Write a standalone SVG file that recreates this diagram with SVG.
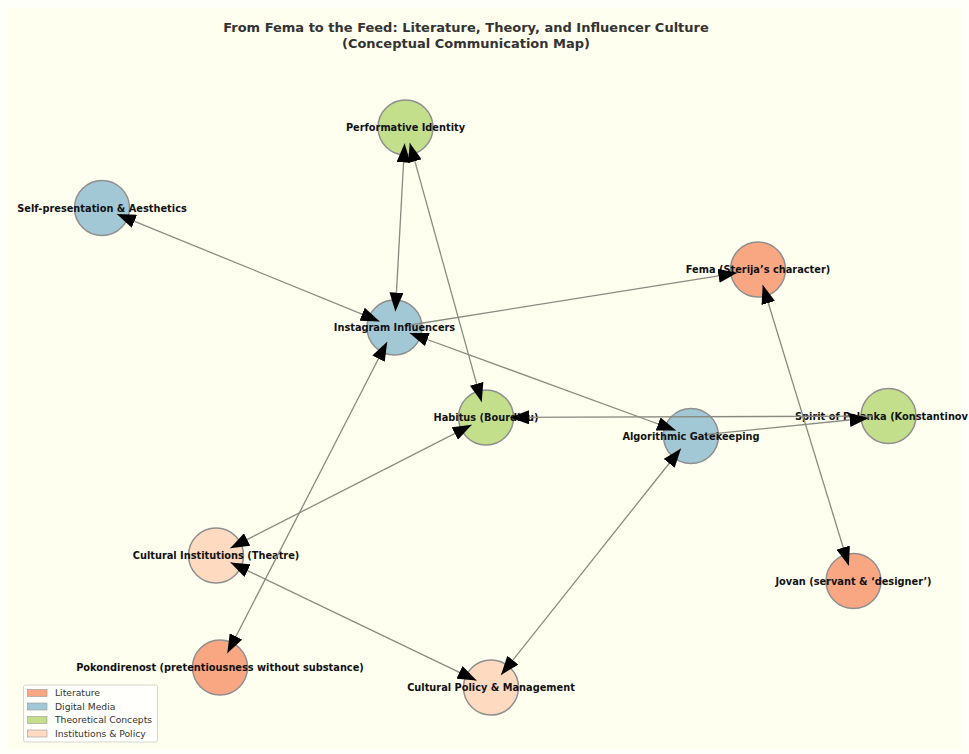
<svg xmlns="http://www.w3.org/2000/svg" width="969" height="754" viewBox="0 0 969 754">
<defs>
<marker id="ah" markerUnits="userSpaceOnUse" markerWidth="19" markerHeight="14" viewBox="0 0 19 14" refX="19" refY="7" orient="auto-start-reverse">
<path d="M0,0 L19,7 L0,14 z" fill="#000"/>
</marker>
<style>
.node circle{stroke:#8f8f8f;stroke-width:1.5}
.lit{fill:#f8a782}
.dig{fill:#a3c8d5}
.the{fill:#c3df8c}
.ins{fill:#fedac0}
.lbl{font-family:"DejaVu Sans",sans-serif;font-weight:bold;font-size:9.8px;fill:#111;text-anchor:middle}
.title{font-family:"DejaVu Sans",sans-serif;font-weight:bold;font-size:13px;fill:#333;text-anchor:middle}
.edges line{stroke:#8a8a80;stroke-width:1.3;fill:none}
.leg{font-family:"DejaVu Sans",sans-serif;font-size:9.2px;fill:#333}
.legp{stroke:#999;stroke-width:0.6}
</style>
</defs>
<rect x="0" y="0" width="969" height="754" fill="#fffffa"/>
<rect x="8" y="8" width="953" height="741" fill="#fffff0"/>
<g id="title">
<text class="title" x="466" y="31.5">From Fema to the Feed: Literature, Theory, and Influencer Culture</text>
<text class="title" x="466" y="47.5">(Conceptual Communication Map)</text>
</g>
<g id="n-performative" class="node"><circle class="the" cx="405.5" cy="127.5" r="27.5"/><text class="lbl" x="405.5" y="131">Performative Identity</text></g>
<g id="n-selfpres" class="node"><circle class="dig" cx="102" cy="208" r="27.5"/><text class="lbl" x="102" y="211.5">Self-presentation &amp; Aesthetics</text></g>
<g id="n-fema" class="node"><circle class="lit" cx="758" cy="269.5" r="27.5"/><text class="lbl" x="758" y="273">Fema (Sterija’s character)</text></g>
<g id="n-instagram" class="node"><circle class="dig" cx="394.5" cy="327.5" r="27.5"/><text class="lbl" x="394.5" y="331">Instagram Influencers</text></g>
<g id="n-habitus" class="node"><circle class="the" cx="486" cy="417.5" r="27.5"/><text class="lbl" x="486" y="421">Habitus (Bourdieu)</text></g>
<g id="n-algorithmic" class="node"><circle class="dig" cx="691" cy="436" r="27.5"/><text class="lbl" x="691" y="439.5">Algorithmic Gatekeeping</text></g>
<g id="n-spirit" class="node"><circle class="the" cx="888.5" cy="416" r="27.5"/><text class="lbl" x="795" y="419.5" style="text-anchor:start" textLength="173" lengthAdjust="spacingAndGlyphs">Spirit of Palanka (Konstantinov</text></g>
<g id="n-institutions" class="node"><circle class="ins" cx="216" cy="555.5" r="27.5"/><text class="lbl" x="216" y="559">Cultural Institutions (Theatre)</text></g>
<g id="n-jovan" class="node"><circle class="lit" cx="853.5" cy="581" r="27.5"/><text class="lbl" x="853.5" y="584.5">Jovan (servant &amp; ‘designer’)</text></g>
<g id="n-pokondirenost" class="node"><circle class="lit" cx="220" cy="667.5" r="27.5"/><text class="lbl" x="220" y="671">Pokondirenost (pretentiousness without substance)</text></g>
<g id="n-policy" class="node"><circle class="ins" cx="491" cy="687.5" r="27.5"/><text class="lbl" x="491" y="691">Cultural Policy &amp; Management</text></g>
<g id="connectors" class="edges">
<line x1="379.7" y1="321.4" x2="116.8" y2="214.1" marker-start="url(#ah)" marker-end="url(#ah)"/>
<line x1="395.4" y1="311.5" x2="404.6" y2="143.5" marker-start="url(#ah)" marker-end="url(#ah)"/>
<line x1="410.3" y1="325" x2="737.3" y2="272.8" marker-end="url(#ah)"/>
<line x1="409.5" y1="333" x2="676" y2="430.5" marker-start="url(#ah)" marker-end="url(#ah)"/>
<line x1="387.2" y1="341.7" x2="227.3" y2="653.3" marker-start="url(#ah)" marker-end="url(#ah)"/>
<line x1="409.8" y1="142.9" x2="481.7" y2="402.1" marker-start="url(#ah)" marker-end="url(#ah)"/>
<line x1="872.5" y1="416.1" x2="510" y2="417.4" marker-end="url(#ah)"/>
<line x1="706.9" y1="434.4" x2="868.6" y2="418" marker-end="url(#ah)"/>
<line x1="471.7" y1="424.8" x2="230.2" y2="548.2" marker-start="url(#ah)" marker-end="url(#ah)"/>
<line x1="230.4" y1="562.4" x2="476.6" y2="680.6" marker-start="url(#ah)" marker-end="url(#ah)"/>
<line x1="681" y1="448.5" x2="501" y2="675" marker-start="url(#ah)" marker-end="url(#ah)"/>
<line x1="762.7" y1="284.8" x2="848.8" y2="565.7" marker-start="url(#ah)" marker-end="url(#ah)"/>
</g>
<g id="legend">
<rect x="23.5" y="685" width="134" height="57" rx="2" fill="#ffffff" fill-opacity="0.8" stroke="#d5d5cc" stroke-width="1"/>
<rect class="legp lit" x="27.5" y="689.5" width="19.5" height="7"/>
<text class="leg" x="55" y="696">Literature</text>
<rect class="legp dig" x="27.5" y="703" width="19.5" height="7"/>
<text class="leg" x="55" y="709.5">Digital Media</text>
<rect class="legp the" x="27.5" y="716.5" width="19.5" height="7"/>
<text class="leg" x="55" y="723">Theoretical Concepts</text>
<rect class="legp ins" x="27.5" y="730" width="19.5" height="7"/>
<text class="leg" x="55" y="736.5">Institutions &amp; Policy</text>
</g>
</svg>
